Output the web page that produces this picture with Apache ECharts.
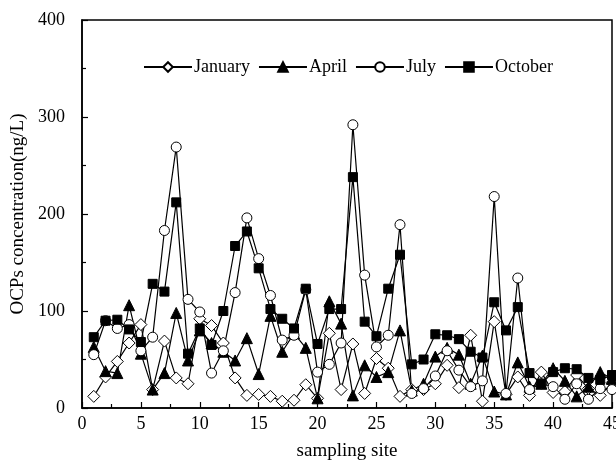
<!DOCTYPE html>
<html>
<head>
<meta charset="utf-8">
<script src="https://cdn.jsdelivr.net/npm/echarts@6/dist/echarts.min.js"></script>
<style>
  html, body { margin: 0; padding: 0; background: #fff; }
  #main { width: 616px; height: 460px; }
</style>
</head>
<body>
<div id="main"></div>
<script>
// sampling sites 1..45
var sites = [1,2,3,4,5,6,7,8,9,10,11,12,13,14,15,16,17,18,19,20,21,22,23,24,25,26,27,28,29,30,31,32,33,34,35,36,37,38,39,40,41,42,43,44,45]
var january = [12,32,48,67,86,19,69,31,25,92,85,67,31,13,14,12,7,8,24,10,77,19,66,15,51,41,12,19,19,25,44,21,75,7,89,14,32,13,37,16,17,34,20,13,26]
var april = [63,38,36,106,56,19,36,98,49,80,67,58,49,72,35,95,58,77,62,10,110,87,13,44,32,37,80,18,25,53,62,55,25,54,17,14,47,22,25,41,28,12,22,37,30]
var july = [55,90,82,86,59,73,183,269,112,99,36,59,119,196,154,116,70,75,122,37,45,67,292,137,63,75,189,15,20,33,59,39,22,28,218,15,134,19,25,22,9,25,9,20,19]
var october = [73,90,91,81,68,128,120,212,56,82,65,100,167,182,144,102,92,82,123,66,102,102,238,89,74,123,158,45,50,76,75,71,58,52,109,80,104,36,25,37,41,40,31,29,34]

var font = 'Liberation Serif'

function pairs (vals) {
    return sites.map(function (s, i) { return [s, vals[i]] })
}

function makeSeries (name, vals, symbol, filled, size) {
    return {
        name: name,
        type: 'line',
        data: pairs(vals),
        symbol: symbol,
        symbolSize: size,
        showSymbol: true,
        lineStyle: { color: '#000', width: 1.2 },
        itemStyle: {
            color: filled ? '#000' : '#fff',
            borderColor: '#000',
            borderWidth: 1
        },
        emphasis: { disabled: true },
        animation: false
    }
}

var myChart = echarts.init(document.getElementById('main'))
myChart.setOption({
    backgroundColor: '#fff',
    animation: false,
    textStyle: { fontFamily: font, color: '#000' },
    legend: {
        left: 138,
        top: 53,
        itemWidth: 48,
        itemHeight: 12,
        itemGap: 8,
        textStyle: { fontFamily: font, fontSize: 18, color: '#000', padding: [0, 0, 0, -3] },
        data: ['January', 'April', 'July', 'October']
    },
    grid: {
        left: 82, right: 4, top: 20, bottom: 52,
        outerBoundsMode: 'none',
        containLabel: false,
        show: true,
        borderColor: '#000',
        borderWidth: 1.5,
        backgroundColor: 'transparent'
    },
    xAxis: {
        type: 'value',
        min: 0, max: 45, interval: 5,
        name: 'sampling site',
        nameLocation: 'middle',
        nameGap: 34,
        nameTextStyle: { fontFamily: font, fontSize: 19, color: '#000' },
        axisLine: { show: true, lineStyle: { color: '#000', width: 1.5 } },
        axisTick: { show: true, inside: true, length: 6, lineStyle: { color: '#000', width: 1.2 } },
        minorTick: { show: true, splitNumber: 2, length: 4, lineStyle: { color: '#000', width: 1.2 } },
        axisLabel: { fontFamily: font, fontSize: 18, color: '#000', margin: 7 },
        splitLine: { show: false }
    },
    yAxis: {
        type: 'value',
        min: 0, max: 400, interval: 100,
        name: 'OCPs concentration(ng/L)',
        nameLocation: 'middle',
        nameGap: 50,
        nameTextStyle: { fontFamily: font, fontSize: 19, color: '#000' },
        axisLine: { show: true, lineStyle: { color: '#000', width: 1.5 } },
        axisTick: { show: true, inside: true, length: 6, lineStyle: { color: '#000', width: 1.2 } },
        minorTick: { show: true, splitNumber: 2, length: 4, lineStyle: { color: '#000', width: 1.2 } },
        axisLabel: { fontFamily: font, fontSize: 18, color: '#000', margin: 17 },
        splitLine: { show: false }
    },
    series: [
        makeSeries('January', january, 'diamond', false, 12),
        makeSeries('April', april, 'triangle', true, 11),
        makeSeries('July', july, 'circle', false, 10),
        makeSeries('October', october, 'rect', true, 9)
    ]
})
</script>
</body>
</html>
